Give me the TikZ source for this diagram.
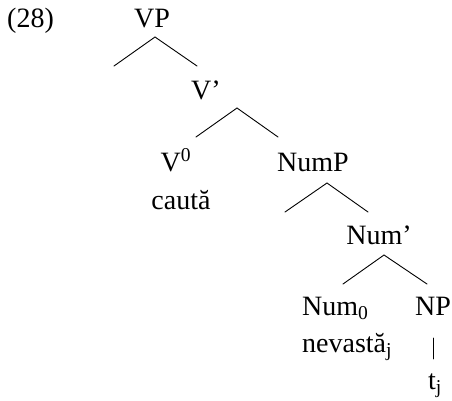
\documentclass[tikz,border=0pt]{standalone}
\usepackage{fontspec}
\setmainfont{Liberation Serif}
\begin{document}
\begin{tikzpicture}[x=1pt,y=-1pt,
  lbl/.style={anchor=base,inner sep=0pt,font=\rmfamily\fontsize{28}{32}\selectfont},
  br/.style={line width=0.9pt,line cap=round}]
\useasboundingbox (0,0) rectangle (452,400);
% labels
\node[lbl,anchor=base west] (ex) at (7,27) {(28)};
\node[lbl] (vp) at (152,27) {VP};
\node[lbl] (vbar) at (206,99) {V’};
\node[lbl] (v0) at (176,171) {V\textsuperscript{0}};
\node[lbl] (cauta) at (181,209) {caută};
\node[lbl] (nump) at (313,171) {NumP};
\node[lbl] (numbar) at (379,244) {Num’};
\node[lbl,anchor=base west] (num0) at (302,315) {Num\textsubscript{0}};
\node[lbl] (np) at (433,315) {NP};
\node[lbl,anchor=base west] (nevasta) at (302,352) {nevastă\textsubscript{j}};
\node[lbl] (tj) at (435,389) {t\textsubscript{j}};
% branch points
\coordinate (vp-a) at (155,37);
\coordinate (vp-l) at (114,66);
\coordinate (vp-r) at (197,66);
\coordinate (vb-a) at (237,108);
\coordinate (vb-l) at (196,137);
\coordinate (vb-r) at (278,137);
\coordinate (nu-a) at (327,183);
\coordinate (nu-l) at (285,212);
\coordinate (nu-r) at (368,212);
\coordinate (nb-a) at (384,255);
\coordinate (nb-l) at (343,284);
\coordinate (nb-r) at (427,284);
\coordinate (np-t) at (433,338);
\coordinate (np-b) at (433,359);
\draw[br] (vp-l) -- (vp-a) -- (vp-r);
\draw[br] (vb-l) -- (vb-a) -- (vb-r);
\draw[br] (nu-l) -- (nu-a) -- (nu-r);
\draw[br] (nb-l) -- (nb-a) -- (nb-r);
\draw[br] (np-t) -- (np-b);
\end{tikzpicture}
\end{document}
